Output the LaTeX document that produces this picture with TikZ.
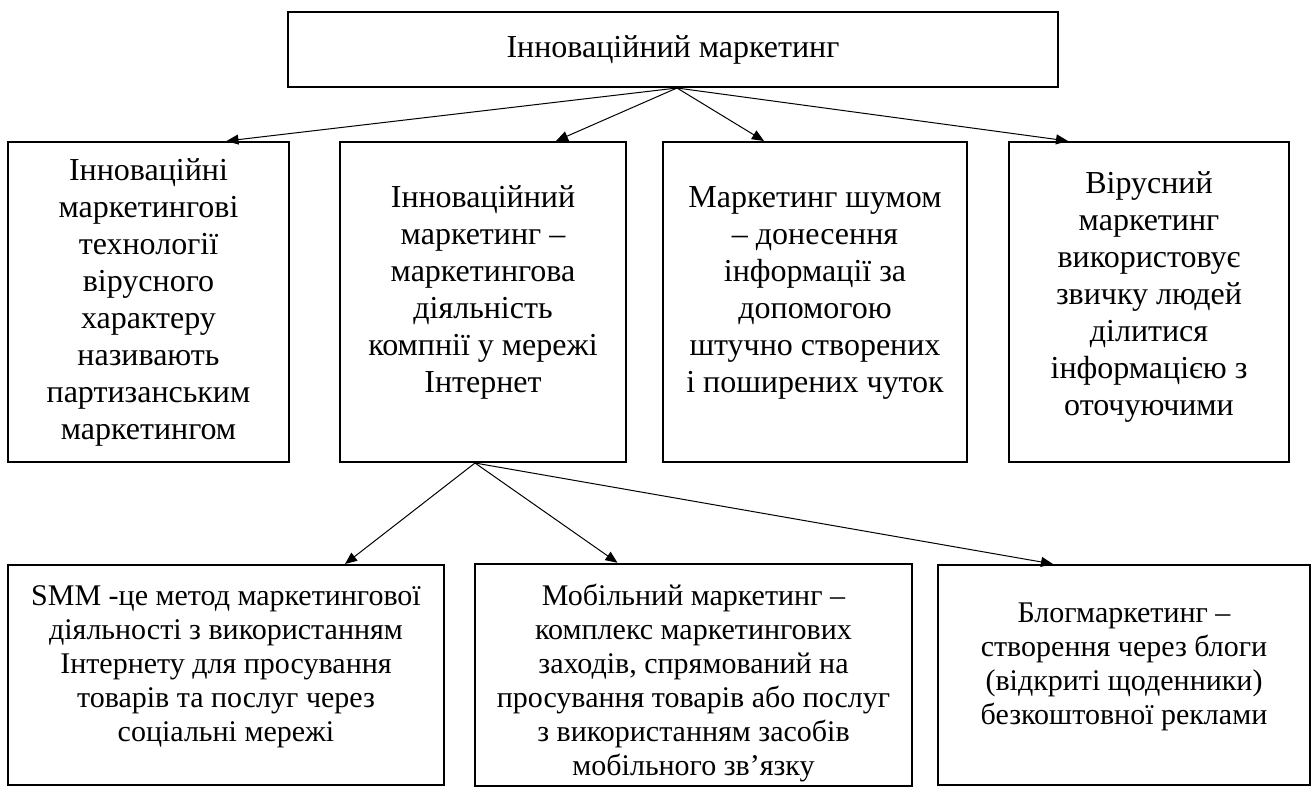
\documentclass[tikz,border=0pt]{standalone}
\usepackage{fontspec}
\setmainfont{Liberation Serif}
\usetikzlibrary{arrows.meta, positioning}

\begin{document}
\begin{tikzpicture}[x=0.5pt, y=-0.5pt,
    block/.style={rectangle, draw, line width=1pt, align=center, inner sep=2pt, font=\fontsize{16}{18.5}\selectfont},
    smallblock/.style={block, font=\fontsize{15}{17}\selectfont, minimum height=110pt},
    arrow/.style={line width=0.5pt, ->, >={Triangle[length=6pt, width=5pt]}}]
\useasboundingbox (0,0) rectangle (1311,787);
\node (innov) [block, minimum width=385pt, minimum height=37.5pt] at (673,49.5) {Інноваційний маркетинг};
% first row
\node (partiz) [block, minimum width=140.5pt, minimum height=160pt] at (148.5,302) {Інноваційні\\маркетингові\\технології\\вірусного\\характеру\\називають\\партизанським\\маркетингом};
\node (internet) [block, minimum width=143pt, minimum height=160pt, right=24.5pt of partiz] {Інноваційний\\маркетинг –\\маркетингова\\діяльність\\компнії у мережі\\Інтернет\\[-6pt]};
\node (noise) [block, minimum width=152pt, minimum height=160pt, right=17.5pt of internet] {Маркетинг шумом\\– донесення\\інформації за\\допомогою\\штучно створених\\і поширених чуток\\[-6pt]};
\node (viral) [block, minimum width=140pt, minimum height=160pt, right=20pt of noise] {Вірусний\\маркетинг\\використовує\\звичку людей\\ділитися\\інформацією з\\оточуючими\\[-10pt]};
% second row
\node (smm) [smallblock, minimum width=218pt] at (226,675) {SMM -це метод маркетингової\\діяльності з використанням\\Інтернету для просування\\товарів та послуг через\\соціальні мережі\\[-6pt]};
\node (mobile) [smallblock, minimum width=218.5pt, right=14.5pt of smm] {\mbox{}\\[2pt]Мобільний маркетинг –\\комплекс маркетингових\\заходів, спрямований на\\просування товарів або послуг\\з використанням засобів\\мобільного зв’язку};
\node (blog) [smallblock, minimum width=186pt, right=12pt of mobile] {Блогмаркетинг –\\створення через блоги\\(відкриті щоденники)\\безкоштовної реклами\\[-6pt]};
\draw [arrow] ([xshift=2pt]innov.south) -- ([xshift=39pt]partiz.north);
\draw [arrow] ([xshift=2pt]innov.south) -- ([xshift=36.5pt]internet.north);
\draw [arrow] ([xshift=2pt]innov.south) -- ([xshift=-25.5pt]noise.north);
\draw [arrow] ([xshift=2pt]innov.south) -- ([xshift=-40.5pt]viral.north);
\draw [arrow] ([xshift=-4pt]internet.south) -- ([xshift=59.5pt]smm.north);
\draw [arrow] ([xshift=-4pt]internet.south) -- ([xshift=-38pt]mobile.north);
\draw [arrow] ([xshift=-4pt]internet.south) -- ([xshift=-35.5pt]blog.north);
\end{tikzpicture}
\end{document}
